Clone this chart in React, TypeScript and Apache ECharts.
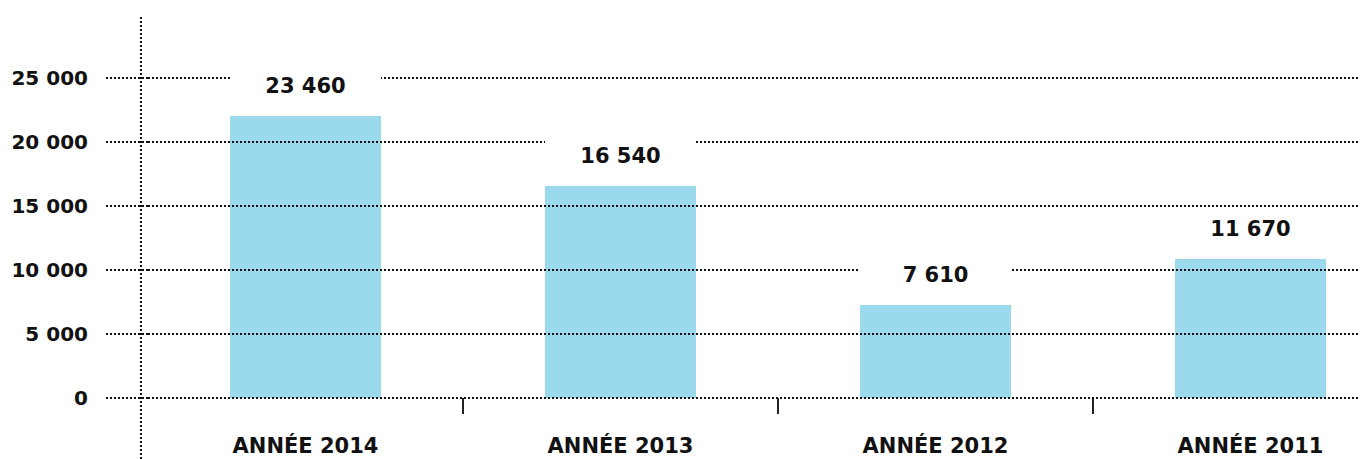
import React, { useEffect, useRef } from "react";
import * as echarts from "echarts";

const categories = ["ANNÉE 2014", "ANNÉE 2013", "ANNÉE 2012", "ANNÉE 2011"];
const barValues = [22030, 16560, 7270, 10860];
const valueLabels = ["23 460", "16 540", "7 610", "11 670"];
const yMin = 0;
const yMax = 25000;
const yInterval = 5000;

const fmt = (v: number) => String(v).replace(/\B(?=(\d{3})+(?!\d))/g, " ");

export default function App() {
  const ref = useRef<HTMLDivElement>(null);
  useEffect(() => {
    document.body.style.margin = "0";
    document.body.style.overflow = "hidden";
    document.documentElement.style.overflow = "hidden";
    if (!ref.current) return;
    const chart = echarts.init(ref.current, null, { renderer: "svg" });
    const dotted = { color: "#111", width: 2, type: [2, 2] as any };
    const font = "'DejaVu Sans', sans-serif";
    chart.setOption({
      animation: false,
      grid: { left: 148, top: 78, right: 0, bottom: 61, containLabel: false },
      xAxis: {
        type: "category",
        data: categories,
        axisLine: { show: false },
        axisTick: {
          show: true,
          length: 16,
          interval: (index: number) => index !== 0,
          lineStyle: { color: "#222", width: 2 },
        },
        axisLabel: {
          interval: 0,
          margin: 37,
          color: "#111",
          fontFamily: font,
          fontWeight: "bold",
          fontSize: 21,
        },
        splitLine: { show: false },
      },
      yAxis: {
        type: "value",
        min: yMin,
        max: yMax,
        interval: yInterval,
        z: 5,
        axisLine: { show: false },
        axisTick: { show: true, length: 43, lineStyle: dotted },
        axisLabel: {
          margin: 60,
          color: "#111",
          fontFamily: font,
          fontWeight: "bold",
          fontSize: 20,
          formatter: (v: number) => fmt(v),
        },
        splitLine: { show: true, lineStyle: dotted },
      },
      graphic: [
        {
          type: "line",
          shape: { x1: 141, y1: 17, x2: 141, y2: 459 },
          style: { stroke: "#111", lineWidth: 2, lineDash: [2, 2] },
        },
      ],
      series: [
        {
          type: "bar",
          data: barValues,
          barWidth: 151,
          z: 2,
          itemStyle: { color: "#9BDAEC" },
        },
        {
          type: "bar",
          data: barValues,
          barWidth: 151,
          barGap: "-100%",
          z: 10,
          itemStyle: { color: "rgba(0,0,0,0)" },
          label: {
            show: true,
            position: "top",
            distance: 15,
            formatter: (p: any) => valueLabels[p.dataIndex],
            backgroundColor: "#fff",
            width: 151,
            height: 30,
            lineHeight: 30,
            align: "center",
            color: "#111",
            fontFamily: font,
            fontWeight: "bold",
            fontSize: 21,
          },
        },
      ],
    });
    return () => chart.dispose();
  }, []);
  return (
    <div style={{ width: 1360, height: 459, overflow: "hidden" }}>
      <div ref={ref} style={{ width: 1408, height: 459 }} />
    </div>
  );
}
